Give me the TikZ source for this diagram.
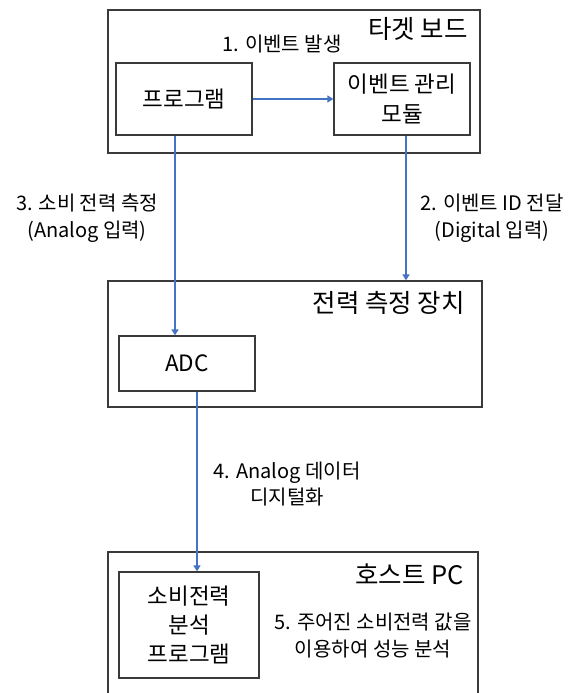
\documentclass[tikz,border=0pt]{standalone}
\usepackage{fontspec}
\setmainfont{Noto Sans CJK KR}
\usetikzlibrary{arrows.meta}
\definecolor{arrblue}{HTML}{4472C4}
\definecolor{boxgray}{HTML}{3A3A3A}
\tikzset{
  box/.style={draw=boxgray, line width=1.3pt, rectangle, inner sep=0pt, align=center, font=\fontsize{22.5}{30}\selectfont},
  frame/.style={draw=boxgray, line width=1.3pt, rectangle, inner sep=0pt},
  title/.style={anchor=east, inner sep=0pt, font=\fontsize{25.5}{30}\selectfont},
  lbl/.style={align=center, inner sep=0pt, font=\fontsize{20}{26.5}\selectfont},
  arr/.style={draw=arrblue, line width=2pt, -{Triangle[width=7pt,length=6pt]}}
}
\begin{document}
\begin{tikzpicture}[x=1pt,y=-1pt]
\useasboundingbox (0,0) rectangle (577,693);
\clip (0,0) rectangle (577,693);
\fill[white] (0,0) rectangle (577,693);
% frames
\node[frame, minimum width=372pt, minimum height=143pt] (top) at (294,81.5) {};
\node[frame, minimum width=374pt, minimum height=126pt] (mid) at (295,344) {};
\node[frame, minimum width=370pt, minimum height=160pt] (bot) at (293,632) {};
% titles
\node[title] (t1) at (468,29) {타겟 보드};
\node[title] (t2) at (465,303) {전력 측정 장치};
\node[title] (t3) at (464,574) {호스트 PC};
% inner boxes
\node[box, minimum width=136pt, minimum height=72pt] (prog) at (184,99) {프로그램};
\node[box, minimum width=136pt, minimum height=72pt] (mod) at (402,99) {이벤트 관리\\모듈};
\node[box, minimum width=136pt, minimum height=55pt] (adc) at (187,363.5) {ADC};
\node[box, minimum width=140pt, minimum height=106pt, font=\fontsize{22.5}{29}\selectfont] (hp) at (189,625) {소비전력\\분석\\프로그램};
% labels
\node[lbl] (l1) at (282,44) {1. 이벤트 발생};
\node[lbl] (l2) at (492,218) {2. 이벤트 ID 전달\\(Digital 입력)};
\node[lbl] (l3) at (87,218) {3. 소비 전력 측정\\(Analog 입력)};
\node[lbl] (l4) at (287,484) {4. Analog 데이터\\디지털화};
\node[lbl] (l5) at (373,635.5) {5. 주어진 소비전력 값을\\이용하여 성능 분석};
% arrows
\draw[arr] (prog.east) -- (mod.west);
\draw[arr] ([xshift=-9pt]prog.south) -- ([xshift=-9pt]prog.south |- adc.north);
\draw[arr] ([xshift=4pt]mod.south) -- ([xshift=4pt]mod.south |- mid.north);
\draw[arr] ([xshift=10pt]adc.south) -- ([xshift=10pt]adc.south |- hp.north);
\end{tikzpicture}
\end{document}
